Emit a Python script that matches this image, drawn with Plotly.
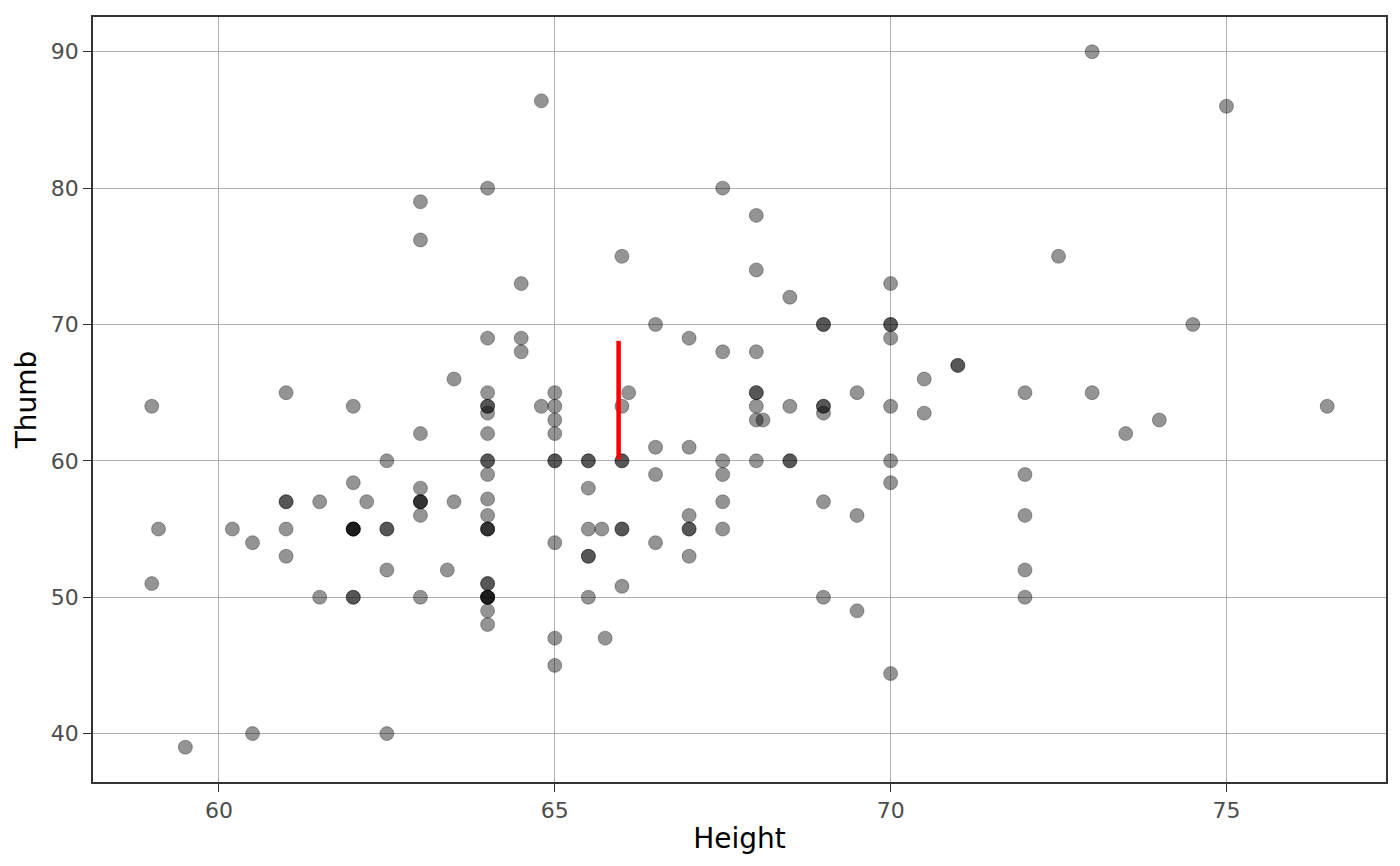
import plotly.graph_objects as go

# Height / Thumb measurements (repeated pairs listed once per observation)
height = [
    59, 59.1, 59, 59.5,
    61, 62, 63.5, 63, 62.5, 62, 63,
    61, 61, 61.5, 62.2, 63, 63, 63, 63.5, 63,
    60.2, 61, 62, 62, 62, 62, 62.5, 62.5, 60.5, 61, 62.5, 63.4,
    61.5, 62, 62, 63, 60.5, 62.5,
    63, 63,
    64, 64.8, 66, 64.5, 66.5, 67, 64, 64.5, 64.5,
    64, 64, 64, 64, 65, 64.8, 65, 65, 65, 66.1, 66,
    64, 64, 64, 65, 65, 65.5, 65.5, 66, 66, 66.5, 67, 64, 66.5, 65.5,
    64, 64, 64, 64, 64, 65.5, 65.7, 66, 66, 67, 67, 67, 65, 66.5,
    65.5, 65.5, 67, 64, 64, 66, 64, 64, 64, 64, 65.5, 64, 64, 65, 65.75, 65,
    67.5, 68, 68, 70, 68.5, 69, 69, 70, 70, 70, 67.5, 68,
    71, 71, 70.5, 68, 68, 69.5, 68, 68.5, 69, 69, 69, 70, 70.5,
    68, 68.1, 67.5, 68, 68.5, 68.5, 70, 67.5, 70, 67.5, 69,
    69.5, 67.5, 69, 69.5, 70,
    73, 75, 72.5, 74.5, 72, 73, 76.5, 73.5, 74, 72, 72, 72, 72,
]
thumb = [
    64, 55, 51, 39,
    65, 64, 66, 62, 60, 58.4, 58,
    57, 57, 57, 57, 57, 57, 57, 57, 56,
    55, 55, 55, 55, 55, 55, 55, 55, 54, 53, 52, 52,
    50, 50, 50, 50, 40, 40,
    79, 76.2,
    80, 86.4, 75, 73, 70, 69, 69, 69, 68,
    65, 64, 64, 63.5, 65, 64, 64, 63, 62, 65, 64,
    62, 60, 60, 60, 60, 60, 60, 60, 60, 61, 61, 59, 59, 58,
    57.2, 56, 55, 55, 55, 55, 55, 55, 55, 56, 55, 55, 54, 54,
    53, 53, 53, 51, 51, 50.8, 50, 50, 50, 50, 50, 49, 48, 47, 47, 45,
    80, 78, 74, 73, 72, 70, 70, 70, 70, 69, 68, 68,
    67, 67, 66, 65, 65, 65, 64, 64, 64, 64, 63.5, 64, 63.5,
    63, 63, 60, 60, 60, 60, 60, 59, 58.4, 57, 57,
    56, 55, 50, 49, 44.4,
    90, 86, 75, 70, 65, 65, 64, 62, 63, 59, 56, 52, 50,
]

# red segment
seg_x = [65.95, 65.95]
seg_y = [60.1, 68.8]

fig = go.Figure()
fig.add_trace(
    go.Scatter(
        x=height,
        y=thumb,
        mode="markers",
        marker=dict(
            size=14,
            color="rgba(0,0,0,0.42)",
            line=dict(color="rgba(0,0,0,0.3)", width=1),
        ),
        showlegend=False,
    )
)
fig.add_trace(
    go.Scatter(
        x=seg_x,
        y=seg_y,
        mode="lines",
        line=dict(color="red", width=4.5),
        showlegend=False,
    )
)

axis_common = dict(
    showgrid=True,
    gridcolor="#b0b0b0",
    gridwidth=1,
    zeroline=False,
    showline=True,
    linecolor="#333333",
    linewidth=1.6,
    mirror=True,
    ticks="outside",
    ticklen=8,
    tickwidth=1.4,
    tickcolor="#333333",
    tickfont=dict(family="DejaVu Sans", size=22, color="#4d4d4d"),
)

fig.update_layout(
    width=1400,
    height=866,
    plot_bgcolor="white",
    paper_bgcolor="white",
    margin=dict(l=85, r=22, t=7, b=92),
    xaxis=dict(
        range=[58.125, 77.375],
        tickvals=[60, 65, 70, 75],
        title=dict(text="Height", font=dict(family="DejaVu Sans", size=28, color="black"), standoff=6),
        **axis_common,
    ),
    yaxis=dict(
        range=[36.45, 92.55],
        tickvals=[40, 50, 60, 70, 80, 90],
        title=dict(text="Thumb", font=dict(family="DejaVu Sans", size=28, color="black"), standoff=6),
        **axis_common,
    ),
)

fig.write_html("out.html")
